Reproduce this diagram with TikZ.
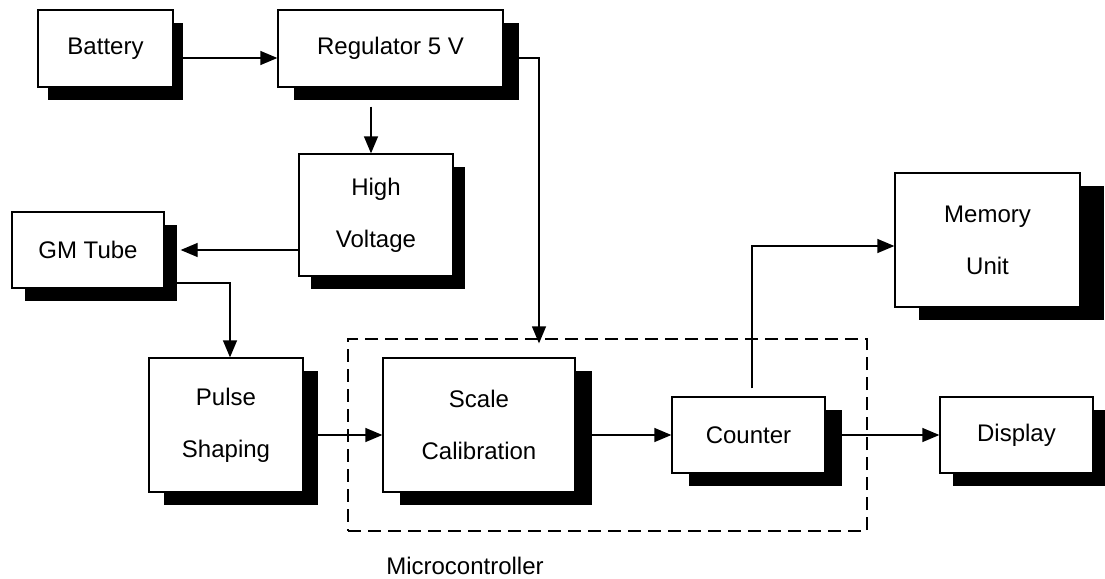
\documentclass[tikz,border=0pt]{standalone}
\usepackage{fontspec}
\setmainfont{Liberation Sans}
\usetikzlibrary{arrows.meta,shadows}

\begin{document}
\begin{tikzpicture}[x=1pt, y=-1pt, font=\fontsize{24}{52}\selectfont, >={Triangle[length=17pt, width=14pt]},
  blk/.style={draw, line width=1.3pt, fill=white, align=center, inner sep=0pt},
  m/.style={->, line width=1.3pt},
  grp/.style={draw, dash pattern=on 13pt off 7pt, line width=1.3pt, inner sep=0pt}]
\useasboundingbox (0,0) rectangle (1105,578);
% microcontroller group, drawn first so the blocks sit on top
\node[grp, minimum width=519pt, minimum height=192pt] (mc) at (607.5,435) {};
\node (mclbl) at (465,566) {Microcontroller};
\foreach \n/\x/\y/\w/\h/\s/\t in {bat/105.5/48.5/135/77/10/Battery, reg/390.5/48.5/225/77/16/Regulator 5 V,
    hv/376/215/154/122/12/{High\\Voltage}, gm/88/250/152/76/13/GM Tube, pul/226/425/154/134/15/{Pulse\\Shaping},
    scl/479/425/192/134/17/{Scale\\Calibration}, cnt/748.5/435/153/76/17/Counter, dsp/1016.5/435/153/76/13/Display,
    mem/987.5/240/185/134/24/{Memory\\Unit}} {
  \node[blk, minimum width=\w pt, minimum height=\h pt,
    drop shadow={shadow xshift=\s pt, shadow yshift=-13pt, fill=black, opacity=1}] (\n) at (\x,\y) {\t};
}
\draw[m] ([yshift=-9.5pt]bat.east) -- ([yshift=-9.5pt]reg.west);
\draw[m] ([yshift=-9.5pt]reg.east) -| ([xshift=-68.5pt,yshift=-5pt]mc.north);
\draw[m] ([xshift=-5pt,yshift=-19pt]hv.north |- reg.south) -- ([xshift=-5pt]hv.north);
\draw[m] (hv.west |- gm.east) -- ([xshift=16pt]gm.east);
\draw[m] ([yshift=-33pt]gm.east) -| ([xshift=4pt]pul.north);
\draw[m] ([yshift=-10pt]pul.east) -- ([yshift=-10pt]scl.west);
\draw[m] (scl.east |- cnt.west) -- (cnt.west);
\draw[m] (cnt.east) -- (dsp.west);
\draw[m] ([xshift=3.5pt,yshift=8pt]cnt.north) |- ([yshift=-6pt]mem.west);
\end{tikzpicture}
\end{document}
